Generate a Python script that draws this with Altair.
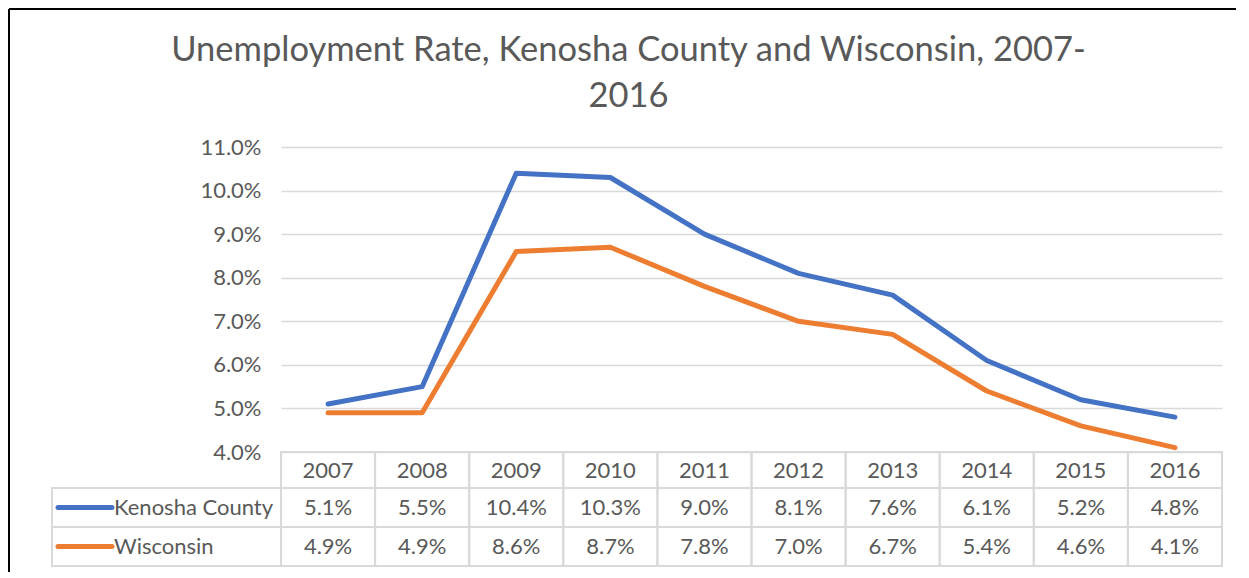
import altair as alt
import pandas as pd

# ---- data ----
years = [2007, 2008, 2009, 2010, 2011, 2012, 2013, 2014, 2015, 2016]
kenosha = [5.1, 5.5, 10.4, 10.3, 9.0, 8.1, 7.6, 6.1, 5.2, 4.8]
wisconsin = [4.9, 4.9, 8.6, 8.7, 7.8, 7.0, 6.7, 5.4, 4.6, 4.1]
series_names = ["Kenosha County", "Wisconsin"]
series_colors = ["#4472C4", "#ED7D31"]
y_ticks = [4, 5, 6, 7, 8, 9, 10, 11]
title_lines = ["Unemployment Rate, Kenosha County and Wisconsin, 2007-", "2016"]

rows = []
for name, vals in zip(series_names, [kenosha, wisconsin]):
    for yr, v in zip(years, vals):
        rows.append({"year": str(yr), "series": name, "rate": v, "label": f"{v:.1f}%"})
df = pd.DataFrame(rows)
year_df = pd.DataFrame({"year": [str(y) for y in years]})
legend_df = pd.DataFrame({"series": series_names})

W, H = 941, 305
FONT = "Lato"
GRAY = "#595959"
GRID = "#d9d9d9"
FS = 22

x_band = alt.X("year:O", scale=alt.Scale(type="band", paddingInner=0, paddingOuter=0), axis=None)
x_mid = alt.X("year:O", scale=alt.Scale(type="band", paddingInner=0, paddingOuter=0), axis=None,
              bandPosition=0.5)
color = alt.Color("series:N", scale=alt.Scale(domain=series_names, range=series_colors), legend=None)

# table row geometry (pixels relative to plot area)
ROW_H = [(305, 341), (341, 380), (380, 419)]
LABEL_X0, SW_X0, SW_X1, TXT_X = -229, -223, -169, -167

# outer chart frame (top and left edges; the rest lies beyond the picture)
one = alt.Chart(legend_df.head(1))
frame_top = one.mark_rule(stroke="black", strokeWidth=2).encode(
    x=alt.value(-272), x2=alt.value(955), y=alt.value(-138))
frame_left = one.mark_rule(stroke="black", strokeWidth=2).encode(
    x=alt.value(-272), y=alt.value(-138), y2=alt.value(425))

lines = alt.Chart(df).mark_line(strokeWidth=5, strokeCap="round", strokeJoin="round").encode(
    x=x_mid,
    y=alt.Y("rate:Q",
            scale=alt.Scale(domain=[4, 11], nice=False, zero=False),
            axis=alt.Axis(values=y_ticks, labelExpr="format(datum.value, '.1f') + '%'",
                          grid=True, gridColor=GRID, gridWidth=1.5, domain=False, ticks=False,
                          labelFontSize=FS, labelFont=FONT, labelColor=GRAY, labelPadding=20,
                          title=None)),
    color=color,
)

layers = [frame_top, frame_left]

# year header row
layers.append(alt.Chart(year_df).mark_rect(fillOpacity=0, stroke=GRID, strokeWidth=2).encode(
    x=x_band, y=alt.value(ROW_H[0][0]), y2=alt.value(ROW_H[0][1])))
layers.append(alt.Chart(year_df).mark_text(font=FONT, fontSize=FS, color=GRAY).encode(
    x=x_mid, y=alt.value((ROW_H[0][0] + ROW_H[0][1]) / 2 + 1), text="year:N"))

for i, name in enumerate(series_names):
    y0, y1 = ROW_H[i + 1]
    ym = (y0 + y1) / 2
    sdf = alt.Chart(df).transform_filter(alt.datum.series == name)
    layers.append(sdf.mark_rect(fillOpacity=0, stroke=GRID, strokeWidth=2).encode(
        x=x_band, y=alt.value(y0), y2=alt.value(y1)))
    layers.append(sdf.mark_text(font=FONT, fontSize=FS, color=GRAY).encode(
        x=x_mid, y=alt.value(ym), text="label:N"))
    ldf = alt.Chart(legend_df).transform_filter(alt.datum.series == name)
    layers.append(ldf.mark_rect(fillOpacity=0, stroke=GRID, strokeWidth=2).encode(
        x=alt.value(LABEL_X0), x2=alt.value(0), y=alt.value(y0), y2=alt.value(y1)))
    layers.append(ldf.mark_rule(strokeWidth=5, strokeCap="round").encode(
        x=alt.value(SW_X0), x2=alt.value(SW_X1), y=alt.value(ym), color=color))
    layers.append(ldf.mark_text(font=FONT, fontSize=FS, color=GRAY, align="left").encode(
        x=alt.value(TXT_X), y=alt.value(ym), text="series:N"))

layers.append(lines)

chart = alt.layer(*layers).properties(
    width=W, height=H, padding=0,
    title=alt.TitleParams(text=title_lines, font=FONT, fontSize=34.5, fontWeight="normal",
                          color=GRAY, lineHeight=46, anchor="middle", dx=-123, offset=-106),
).configure(background="white").configure_view(stroke="transparent")

chart.save("out.html", embed_options={"renderer": "svg", "actions": False})
